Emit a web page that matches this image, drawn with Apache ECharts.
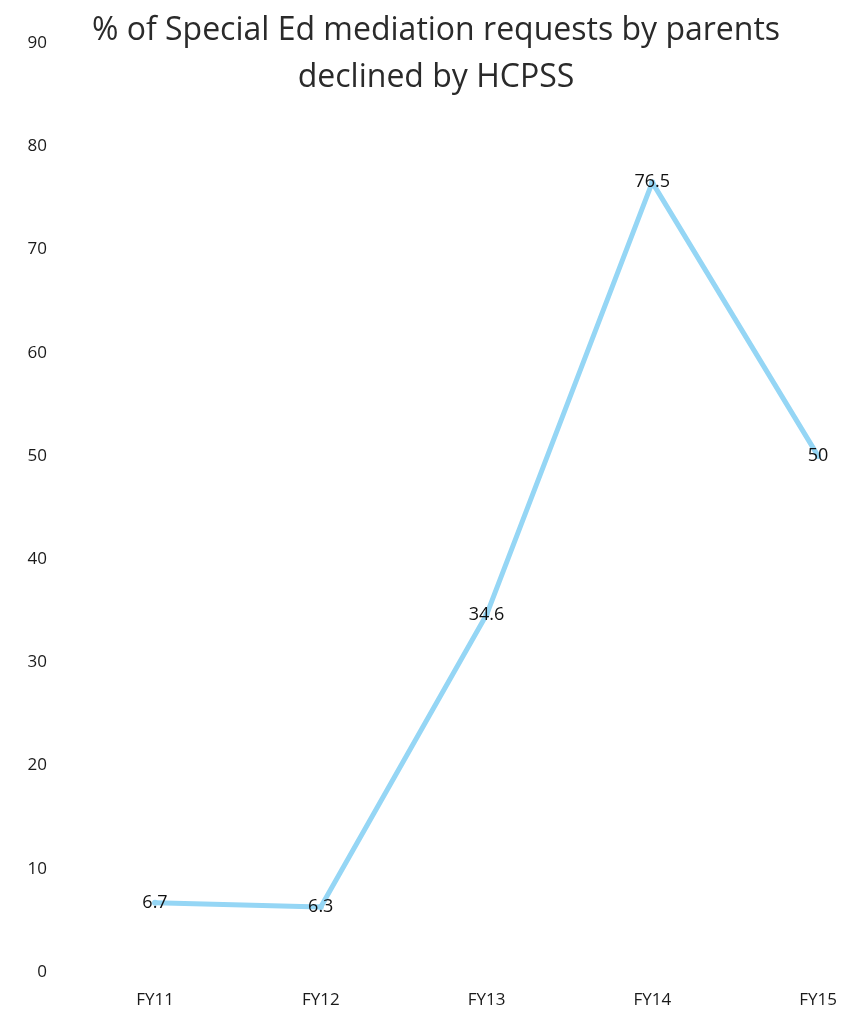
<!DOCTYPE html>
<html>
<head>
<meta charset="utf-8">
<script src="https://cdn.jsdelivr.net/npm/echarts@6/dist/echarts.min.js"></script>
<style>
html,body{margin:0;padding:0;background:#fff;}
#chart{width:856px;height:1021px;}
</style>
</head>
<body>
<div id="chart"></div>
<script>
const categories = ["FY11", "FY12", "FY13", "FY14", "FY15"];
const values = [6.7, 6.3, 34.6, 76.5, 50];
const titleText = "% of Special Ed mediation requests by parents\ndeclined by HCPSS";

const chart = echarts.init(document.getElementById('chart'));
chart.setOption({
  backgroundColor: '#ffffff',
  animation: false,
  title: {
    text: titleText,
    left: 431,
    top: 2,
    textAlign: 'center',
    textStyle: {
      fontFamily: 'Open Sans',
      fontWeight: 'normal',
      fontSize: 32,
      lineHeight: 47,
      color: '#2a2a2a'
    }
  },
  grid: { left: 155, right: 38, top: 43, bottom: 49 },
  xAxis: {
    type: 'category',
    data: categories,
    boundaryGap: false,
    axisLine: { show: false },
    axisTick: { show: false },
    axisLabel: { color: '#1a1a1a', fontSize: 17, fontFamily: 'Open Sans', margin: 20 }
  },
  yAxis: {
    type: 'value',
    min: 0,
    max: 90,
    interval: 10,
    splitLine: { show: false },
    axisLine: { show: false },
    axisTick: { show: false },
    axisLabel: { color: '#1a1a1a', fontSize: 17, fontFamily: 'Open Sans', margin: 108 }
  },
  series: [{
    type: 'line',
    data: values,
    symbol: 'circle',
    symbolSize: 6,
    itemStyle: { color: '#95d6f5' },
    lineStyle: { color: '#95d6f5', width: 5 },
    label: {
      show: true,
      position: 'inside',
      color: '#111',
      fontSize: 18,
      fontFamily: 'Open Sans'
    }
  }]
});
</script>
</body>
</html>
